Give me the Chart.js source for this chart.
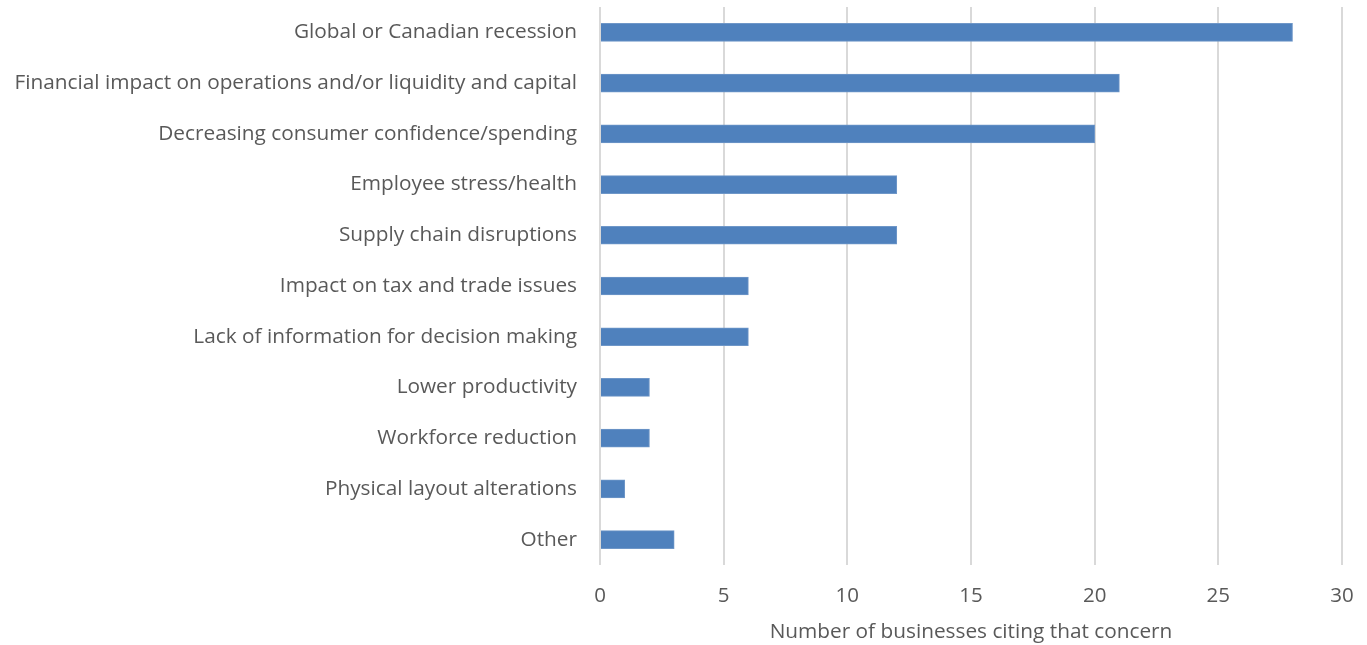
<!DOCTYPE html>
<html>
<head>
<meta charset="utf-8">
<script src="https://cdn.jsdelivr.net/npm/chart.js@4"></script>
<style>
  html, body { margin: 0; padding: 0; background: #ffffff; }
  #wrap { width: 1367px; height: 645px; }
</style>
</head>
<body>
<div id="wrap"><canvas id="c" width="1367" height="645"></canvas></div>
<script>
// Concerns cited by businesses and how many cited each
const concerns = [
  'Global or Canadian recession',
  'Financial impact on operations and/or liquidity and capital',
  'Decreasing consumer confidence/spending',
  'Employee stress/health',
  'Supply chain disruptions',
  'Impact on tax and trade issues',
  'Lack of information for decision making',
  'Lower productivity',
  'Workforce reduction',
  'Physical layout alterations',
  'Other'
];
const businessCounts = [28, 21, 20, 12, 12, 6, 6, 2, 2, 1, 3];
const xTicks = [0, 5, 10, 15, 20, 25, 30];
const xTitle = 'Number of businesses citing that concern';

const FONT = '"Open Sans", Lato, "Liberation Sans", sans-serif';
const TEXT = '#595959';

new Chart(document.getElementById('c'), {
  type: 'bar',
  data: {
    labels: concerns,
    datasets: [{
      data: businessCounts,
      backgroundColor: '#4f81bd',
      borderColor: '#6f97c8',
      borderWidth: 1,
      barThickness: 18
    }]
  },
  options: {
    indexAxis: 'y',
    responsive: false,
    animation: false,
    layout: { padding: { top: 7, right: 25, left: 0, bottom: 0 } },
    plugins: { legend: { display: false }, tooltip: { enabled: false } },
    scales: {
      x: {
        min: 0, max: 30,
        afterBuildTicks: (s) => { s.ticks = xTicks.map(v => ({ value: v })); },
        afterFit: (s) => { s.height = 80; s.paddingLeft = 0; s.paddingRight = 0; },
        grid: { color: '#d9d9d9', lineWidth: 2, drawTicks: false },
        border: { display: false },
        ticks: { color: TEXT, font: { family: FONT, size: 20.5 }, padding: 19 },
        title: {
          display: true, text: xTitle, color: TEXT,
          font: { family: FONT, size: 20.8 }, padding: { top: 4, bottom: 0 }
        }
      },
      y: {
        afterFit: (s) => { s.width = 600; s.paddingTop = 0; s.paddingBottom = 0; },
        grid: { display: false, drawTicks: false },
        border: { display: false },
        ticks: { color: TEXT, font: { family: FONT, size: 20.8 }, padding: 23, autoSkip: false }
      }
    }
  }
});
</script>
</body>
</html>
